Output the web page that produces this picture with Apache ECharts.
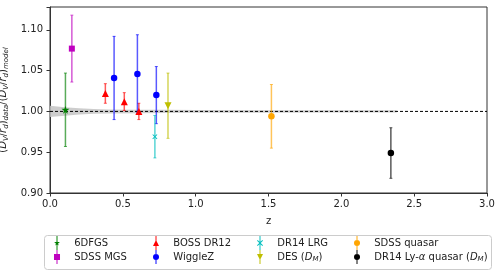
<!DOCTYPE html>
<html><head><meta charset="utf-8">
<script src="https://cdn.jsdelivr.net/npm/echarts@6/dist/echarts.min.js"></script>
<style>html,body{margin:0;padding:0;background:#fff}#c{width:502px;height:276px}</style>
</head><body><div id="c"></div>
<script>
// [z, ratio, error]
const sixdfgs = [[0.106, 1.002, 0.045]];
const sdssMgs = [[0.15, 1.077, 0.041]];
const bossDr12 = [[0.38, 1.022, 0.012], [0.51, 1.012, 0.011], [0.61, 1.000, 0.010]];
const wiggleZ = [[0.44, 1.041, 0.051], [0.60, 1.046, 0.048], [0.73, 1.020, 0.035]];
const dr14Lrg = [[0.72, 0.969, 0.026]];
const desDm = [[0.81, 1.007, 0.040]];
const sdssQuasar = [[1.52, 0.994, 0.039]];
const lyaQuasar = [[2.34, 0.949, 0.031]];
// model uncertainty band (z, half width)
const bandZ = [0, 0.1, 0.2, 0.3, 0.4, 0.6, 0.8, 1.0, 1.5, 2.0, 2.38];
const bandHalf = [0.0068, 0.0052, 0.0038, 0.003, 0.0025, 0.0021, 0.0019, 0.0017, 0.0015, 0.0014, 0.0014];
const refLine = [[0, 1.0], [3, 1.0]];
const xTicks = [0, 0.5, 1.0, 1.5, 2.0, 2.5, 3.0];
const yTicks = [0.90, 0.95, 1.00, 1.05, 1.10];

const STAR = 'path://M50,0 L61,35 L98,35 L68,57 L79,91 L50,70 L21,91 L32,57 L2,35 L39,35 Z';
const XMARK = 'path://M0,12 L12,0 L50,38 L88,0 L100,12 L62,50 L100,88 L88,100 L50,62 L12,100 L0,88 L38,50 Z';
const CIRCLE = 'circle', SQUARE = 'rect', TRI = 'triangle';

const LINE = 'M42,0 L58,0 L58,233 L42,233 Z ';
const ICON = {
  circle: 'path://' + LINE + 'M0,116 A50,50 0 1 1 100,116 A50,50 0 1 1 0,116 Z',
  square: 'path://' + LINE + 'M0,66 L100,66 L100,166 L0,166 Z',
  triUp: 'path://' + LINE + 'M50,66 L100,166 L0,166 Z',
  triDown: 'path://' + LINE + 'M0,66 L100,66 L50,166 Z',
  star: 'path://' + LINE + 'M50,66 L61,101 L98,101 L68,123 L79,157 L50,136 L21,157 L32,123 L2,101 L39,101 Z',
  x: 'path://' + LINE + 'M0,78 L12,66 L50,104 L88,66 L100,78 L62,116 L100,154 L88,166 L50,128 L12,166 L0,154 L38,116 Z'
};

const sets = [
  {name: '6DFGS', data: sixdfgs, color: '#008000', symbol: STAR, size: 8, icon: ICON.star},
  {name: 'SDSS MGS', data: sdssMgs, color: '#bf00bf', symbol: SQUARE, size: 6, icon: ICON.square},
  {name: 'BOSS DR12', data: bossDr12, color: '#ff0000', symbol: TRI, size: 7, icon: ICON.triUp},
  {name: 'WiggleZ', data: wiggleZ, color: '#0000ff', symbol: CIRCLE, size: 6.5, icon: ICON.circle},
  {name: 'DR14 LRG', data: dr14Lrg, color: '#00bfbf', symbol: XMARK, size: 5, icon: ICON.x},
  {name: 'DES (D_M)', data: desDm, color: '#bfbf00', symbol: TRI, size: 7, rotate: 180, icon: ICON.triDown},
  {name: 'SDSS quasar', data: sdssQuasar, color: '#ffa500', symbol: CIRCLE, size: 6.5, icon: ICON.circle},
  {name: 'DR14 Ly-α quasar (D_M)', data: lyaQuasar, color: '#000000', symbol: CIRCLE, size: 6.5, icon: ICON.circle}
];

const FONT = 'DejaVu Sans';
const series = [];
series.push({
  type: 'custom', data: bandZ.map((z, i) => [z, bandHalf[i]]), silent: true, z: 1,
  renderItem: function (params, api) {
    if (params.dataIndex !== 0) return null;
    const up = [], lo = [];
    bandZ.forEach((z, i) => {
      up.push(api.coord([z, 1 + bandHalf[i]]));
      lo.push(api.coord([z, 1 - bandHalf[i]]));
    });
    return {type: 'polygon', shape: {points: up.concat(lo.reverse())}, style: {fill: '#c4c4c4', opacity: 0.85}};
  }
});
series.push({type: 'line', data: refLine, symbol: 'none', lineStyle: {color: '#000', width: 1, type: [3, 2]}, silent: true, z: 2});

sets.forEach(s => {
  series.push({
    type: 'custom', name: s.name + '_err', data: s.data, z: 3, silent: true,
    renderItem: function (params, api) {
      const x = api.value(0), y = api.value(1), e = api.value(2);
      const t = api.coord([x, y + e]), b = api.coord([x, y - e]);
      const cw = 1.5;
      const st = {stroke: s.color, lineWidth: 1.5, opacity: 0.65};
      return {type: 'group', children: [
        {type: 'line', shape: {x1: t[0], y1: t[1], x2: b[0], y2: b[1]}, style: st},
        {type: 'line', shape: {x1: t[0] - cw, y1: t[1], x2: t[0] + cw, y2: t[1]}, style: {stroke: s.color, lineWidth: 1, opacity: 0.65}},
        {type: 'line', shape: {x1: b[0] - cw, y1: b[1], x2: b[0] + cw, y2: b[1]}, style: {stroke: s.color, lineWidth: 1, opacity: 0.65}}
      ]};
    }
  });
  series.push({
    type: 'scatter', name: s.name, data: s.data.map(d => [d[0], d[1]]), symbol: s.symbol, symbolSize: s.size,
    symbolRotate: s.rotate || 0, itemStyle: {color: s.color, opacity: 1}, z: 4
  });
});

const richLeg = {
  n: {fontFamily: FONT, fontSize: 10, color: '#222'},
  i: {fontFamily: FONT, fontSize: 10, fontStyle: 'italic', color: '#222'},
  s: {fontFamily: FONT, fontSize: 7, fontStyle: 'italic', color: '#222', padding: [5, 0, 0, 0]}
};
function legFmt(name) {
  if (name === 'DES (D_M)') return '{n|DES (}{i|D}{s|M}{n|)}';
  if (name === 'DR14 Ly-α quasar (D_M)') return '{n|DR14 Ly-}{i|α}{n| quasar (}{i|D}{s|M}{n|)}';
  return '{n|' + name + '}';
}
const colLeft = [54, 153, 257, 354];
const legends = [0, 1, 2, 3].map(c => ({
  orient: 'vertical', left: colLeft[c], top: 236, itemWidth: 6.5, itemHeight: 14, itemGap: 0,
  padding: 0, selectedMode: false, formatter: legFmt,
  textStyle: {fontFamily: FONT, fontSize: 10, color: '#222', padding: [0, 0, 0, 9], rich: richLeg},
  data: [sets[2 * c], sets[2 * c + 1]].map(s => ({name: s.name, icon: s.icon, itemStyle: {color: s.color}}))
}));

const option = {
  animation: false,
  backgroundColor: '#fff',
  grid: {left: 50, right: 15, top: 7, bottom: 83, show: true, borderColor: '#333', borderWidth: 1,
    containLabel: false, outerBoundsMode: 'none'},
  xAxis: {type: 'value', min: 0, max: 3, interval: 0.5,
    name: 'z', nameLocation: 'middle', nameGap: 23,
    nameTextStyle: {fontFamily: FONT, fontSize: 10, color: '#222'},
    axisLine: {show: true, lineStyle: {color: '#333'}},
    axisTick: {show: true, length: 3.5, lineStyle: {color: '#333'}},
    axisLabel: {fontFamily: FONT, fontSize: 10, color: '#222', margin: 6,
      formatter: v => xTicks.some(t => Math.abs(t - v) < 1e-6) ? v.toFixed(1) : ''},
    splitLine: {show: false}},
  yAxis: {type: 'value', min: 0.9, max: 1.128, interval: 0.05,
    name: '({i|D}{s|V}{n|/}{i|r}{s|d}{n|)}{s|data}{n|/(}{i|D}{s|V}{n|/}{i|r}{s|d}{n|)}{s|model}',
    nameLocation: 'middle', nameGap: 34,
    nameTextStyle: {fontFamily: FONT, fontSize: 10, color: '#222', rich: {
      n: {fontFamily: FONT, fontSize: 10, color: '#222'},
      i: {fontFamily: FONT, fontSize: 10, fontStyle: 'italic', color: '#222'},
      s: {fontFamily: FONT, fontSize: 7, fontStyle: 'italic', color: '#222', padding: [5, 0, 0, 0]}
    }},
    axisLine: {show: true, lineStyle: {color: '#333'}},
    axisTick: {show: true, length: 3.5, lineStyle: {color: '#333'}},
    axisLabel: {fontFamily: FONT, fontSize: 10, color: '#222', margin: 7,
      formatter: v => yTicks.some(t => Math.abs(t - v) < 1e-6) ? v.toFixed(2) : ''},
    splitLine: {show: false}},
  legend: legends,
  graphic: [{type: 'rect', left: 44, top: 235, shape: {width: 447, height: 34, r: 3},
    style: {fill: 'rgba(255,255,255,0.8)', stroke: '#cccccc', lineWidth: 1}, z: -1}],
  series: series
};
const chart = echarts.init(document.getElementById('c'), null, {renderer: 'canvas'});
chart.setOption(option);
</script></body></html>
